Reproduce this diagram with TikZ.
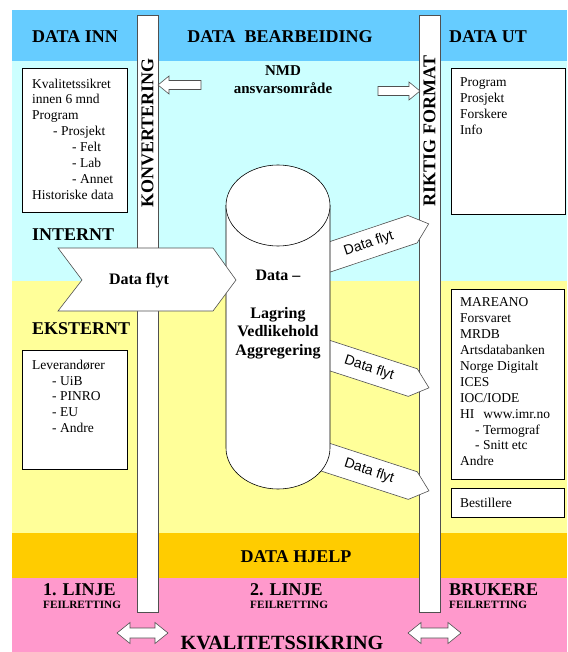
\documentclass[tikz,border=0pt]{standalone}
\usepackage{fontspec}
\setmainfont{Liberation Serif}
\newfontfamily\arialf{Liberation Sans}
\definecolor{hdrblue}{RGB}{102,204,255}
\definecolor{lcyan}{RGB}{204,255,255}
\definecolor{lyellow}{RGB}{255,255,153}
\definecolor{orng}{RGB}{255,204,0}
\definecolor{pnk}{RGB}{255,153,204}
\definecolor{edgegray}{RGB}{80,80,80}
\begin{document}
\begin{tikzpicture}[x=1pt,y=-1pt,
  hdr/.style={font=\bfseries\fontsize{18}{20}\selectfont, inner sep=0, anchor=base},
  hdrw/.style={font=\bfseries\fontsize{18}{20}\selectfont, inner sep=0, anchor=base west},
  subhdr/.style={font=\bfseries\fontsize{11.2}{13}\selectfont, inner sep=0, anchor=base west},
  lst/.style={font=\fontsize{13.5}{15.9}\selectfont, align=left, inner sep=0, anchor=north west},
  lstline/.style={font=\fontsize{13.5}{15.9}\selectfont, inner sep=0, anchor=base west},
  boxframe/.style={draw=black, fill=white, line width=0.6pt, inner sep=0, anchor=north west},
  arr/.style={draw=edgegray, fill=white, line width=0.6pt, line join=miter},
  barbox/.style={draw=edgegray, fill=white, line width=0.8pt},
  bartext/.style={font=\bfseries\fontsize{18}{20}\selectfont, inner sep=0, rotate=90},
  cyl/.style={draw=black, fill=white, line width=0.6pt},
  cyltext/.style={font=\bfseries\fontsize{16}{18}\selectfont, inner sep=0, anchor=base},
  flowtext/.style={font=\arialf\fontsize{14}{16}\selectfont, inner sep=0},
  midtext/.style={font=\bfseries\fontsize{15}{17}\selectfont, inner sep=0, anchor=base}
]
\useasboundingbox (0,0) rectangle (567,652);
% bands
\fill[hdrblue] (12,10) rectangle (567,61);
\fill[lcyan] (12,61) rectangle (567,281);
\fill[lyellow] (12,281) rectangle (567,533);
\fill[orng] (12,533) rectangle (567,578);
\fill[pnk] (12,578) rectangle (567,652);

% vertical bars
\draw[barbox] (137,15) rectangle (158,612);
\draw[barbox] (419,15) rectangle (440,612);
\node[bartext] (konv) at (147.5,133) {KONVERTERING};
\node[bartext] (riktig) at (429.5,131) {RIKTIG FORMAT};

% headers
\node[hdr] (inn) at (75,43) {DATA INN};
\node[hdr] (bearb) at (280,43) {DATA\ \ BEARBEIDING};
\node[hdr] (ut) at (488,43) {DATA UT};

% NMD
\node[midtext] (nmd) at (283,76) {NMD};
\node[midtext] (ansvar) at (283,94) {ansvarsområde};
\draw[arr] (158,85) -- (169,76) -- (169,80.5) -- (201,80.5) -- (201,89.5) -- (169,89.5) -- (169,94) -- cycle;
\draw[arr] (420,91) -- (409,82) -- (409,86.5) -- (378,86.5) -- (378,95.5) -- (409,95.5) -- (409,100) -- cycle;

% left boxes
\node[boxframe, minimum width=105pt, minimum height=144pt] (qbox) at (22,68) {};
\node[lst] (qtxt) at (32,78.5) {Kvalitetssikret\\innen 6 mnd\\Program\\\hspace*{21pt}- Prosjekt\\\hspace*{40pt}- Felt\\\hspace*{40pt}- Lab\\\hspace*{40pt}- Annet\\Historiske data};
\node[boxframe, minimum width=105pt, minimum height=119pt] (levbox) at (22,350) {};
\node[lst] (levtxt) at (32,359.6) {Leverandører\\\hspace*{20pt}- UiB\\\hspace*{20pt}- PINRO\\\hspace*{20pt}- EU\\\hspace*{20pt}- Andre};

% right boxes
\node[boxframe, minimum width=114pt, minimum height=146pt] (progbox) at (451,68) {};
\node[lst] (progtxt) at (460,77.5) {Program\\Prosjekt\\Forskere\\Info};
\node[boxframe, minimum width=113pt, minimum height=190pt] (marbox) at (451,289) {};
\node[lst] (martxt) at (460,297.7) {MAREANO\\Forsvaret\\MRDB\\Artsdatabanken\\Norge Digitalt\\ICES\\IOC/IODE\\HI\hspace{9pt}www.imr.no\\\hspace*{15pt}- Termograf\\\hspace*{15pt}- Snitt etc\\Andre};
\node[boxframe, minimum width=113pt, minimum height=29pt] (bestbox) at (451,488) {};
\node[lstline] (besttxt) at (460,507.6) {Bestillere};

% INTERNT / EKSTERNT
\node[hdrw] (internt) at (32,240) {INTERNT};
\node[hdrw] (eksternt) at (32,334) {EKSTERNT};

% small flow arrows
\begin{scope}[shift={(331,256.5)}, rotate=18.5]
  \draw[arr] (-20,-14.5) -- (86,-14.5) -- (103,0) -- (86,14.5) -- (-20,14.5) -- cycle;
  \node[flowtext, rotate=18.5] (f1) at (40,0) {Data flyt};
\end{scope}
\begin{scope}[shift={(331,356)}, rotate=-18]
  \draw[arr] (-20,-14.5) -- (86,-14.5) -- (103,0) -- (86,14.5) -- (-20,14.5) -- cycle;
  \node[flowtext, rotate=-18] (f2) at (40,0) {Data flyt};
\end{scope}
\begin{scope}[shift={(331,459)}, rotate=-18]
  \draw[arr] (-30,-14.5) -- (86,-14.5) -- (103,0) -- (86,14.5) -- (-30,14.5) -- cycle;
  \node[flowtext, rotate=-18] (f3) at (40,0) {Data flyt};
\end{scope}

% cylinder
\draw[cyl] (226,205.5) -- (226,448) arc[start angle=180, end angle=360, x radius=52pt, y radius=41pt] -- (330,205.5);
\draw[cyl] (278,205.5) ellipse [x radius=52pt, y radius=40.5pt];
\node[cyltext] (c1) at (278,280) {Data --};
\node[cyltext] (c2) at (278,318) {Lagring};
\node[cyltext] (c3) at (278,336.5) {Vedlikehold};
\node[cyltext] (c4) at (278,355) {Aggregering};

% big data flow arrow
\draw[arr] (58,248) -- (213,248) -- (236,280) -- (213,311) -- (58,311) -- (82,280) -- cycle;
\node[cyltext] (bigflow) at (139,284) {Data flyt};

% bottom
\node[hdr] (hjelp) at (296,562) {DATA HJELP};
\node[hdrw] (l1) at (43,595) {1. LINJE};
\node[subhdr] (fr1) at (43,608.7) {FEILRETTING};
\node[hdrw] (l2) at (250,595) {2. LINJE};
\node[subhdr] (fr2) at (250,608.7) {FEILRETTING};
\node[hdrw] (bruk) at (449,595) {BRUKERE};
\node[subhdr] (fr3) at (449,608.7) {FEILRETTING};
\draw[arr] (117,633) -- (130,622.5) -- (130,628) -- (155,628) -- (155,622.5) -- (168,633) -- (155,643.5) -- (155,638) -- (130,638) -- (130,643.5) -- cycle;
\draw[arr] (408,633) -- (421,622.5) -- (421,628) -- (448,628) -- (448,622.5) -- (461,633) -- (448,643.5) -- (448,638) -- (421,638) -- (421,643.5) -- cycle;
\node[font=\bfseries\fontsize{20.2}{22}\selectfont, inner sep=0, anchor=base] (kval) at (282,649.5) {KVALITETSSIKRING};
\end{tikzpicture}
\end{document}
